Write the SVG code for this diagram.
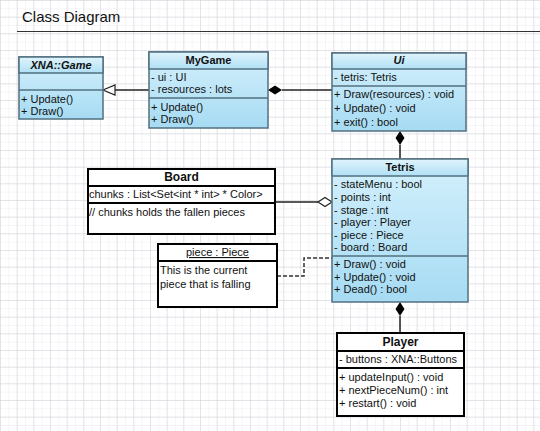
<svg xmlns="http://www.w3.org/2000/svg" width="540" height="431" viewBox="0 0 540 431">
<defs>
<pattern id="minor" width="8.3333" height="8.3333" patternUnits="userSpaceOnUse">
<path d="M0 0H8.3333M0 0V8.3333" fill="none" stroke="#ececf2" stroke-width="1"/>
</pattern>
<pattern id="major" width="16.6667" height="16.6667" patternUnits="userSpaceOnUse">
<path d="M0 0H16.6667M0 0V16.6667" fill="none" stroke="#d2d2da" stroke-width="1"/>
</pattern>
<linearGradient id="body" x1="0" y1="0" x2="0" y2="1">
<stop offset="0" stop-color="#d4f0fc"/>
<stop offset="1" stop-color="#a6dbf3"/>
</linearGradient>
<linearGradient id="head" x1="0" y1="0" x2="0" y2="1">
<stop offset="0" stop-color="#e0f4fc"/>
<stop offset="1" stop-color="#b0e0f5"/>
</linearGradient>
</defs>
<style>
.t{font-family:"Liberation Sans",Arial,sans-serif;font-size:11px;fill:#111}
.h{font-family:"Liberation Sans",Arial,sans-serif;font-size:11px;font-weight:bold;fill:#111;text-anchor:middle}
.hi{font-style:italic}
.hb{font-size:12px}
.bb{fill:url(#body);stroke:#52707f;stroke-width:1.5}
.bh{fill:url(#head);stroke:#52707f;stroke-width:1.5}
.sep{stroke:#52707f;stroke-width:1.5;fill:none}
.wb{fill:#fff;stroke:#000;stroke-width:2}
.wsep{stroke:#000;stroke-width:2;fill:none}
.ln{stroke:#222;stroke-width:1.5;fill:none}
.dash{stroke:#333;stroke-width:1.5;fill:none;stroke-dasharray:4 2}
</style>
<rect width="540" height="431" fill="#fff"/>
<rect width="540" height="431" fill="url(#minor)"/>
<rect width="540" height="431" fill="url(#major)"/>
<text x="22" y="22" font-family="'Liberation Sans',Arial,sans-serif" font-size="15" fill="#111">Class Diagram</text>
<line x1="17" y1="31.5" x2="540" y2="31.5" stroke="#333" stroke-width="1"/>

<g id="connectors">
<path class="ln" d="M149 90H115"/>
<path d="M103 90L115 85L115 95Z" fill="#fff" stroke="#222" stroke-width="1.2"/>
<path class="ln" d="M282 90H332"/>
<path d="M268 90L275 85.5L282 90L275 94.5Z" fill="#000"/>
<path class="ln" d="M400 145V159"/>
<path d="M400 131L404.5 138L400 145L395.5 138Z" fill="#000"/>
<path class="ln" d="M400 316V333"/>
<path d="M400 302L404.5 309L400 316L395.5 309Z" fill="#000"/>
<path class="ln" d="M275 202H318"/>
<path d="M332 202L325 197.5L318 202L325 206.5Z" fill="#fff" stroke="#222" stroke-width="1.2"/>
<path class="dash" d="M277 276H304V258H332"/>
</g>

<g id="xna-game">
<rect class="bb" x="19" y="57" width="84" height="62"/>
<rect class="bh" x="19" y="57" width="84" height="16"/>
<path class="sep" d="M19 90H103"/>
<text class="h hi" x="61" y="69">XNA::Game</text>
<text class="t" x="21" y="103">+ Update()</text>
<text class="t" x="21" y="115">+ Draw()</text>
</g>

<g id="mygame">
<rect class="bb" x="149" y="52" width="119" height="76"/>
<rect class="bh" x="149" y="52" width="119" height="17"/>
<path class="sep" d="M149 98H268"/>
<text class="h" x="208.5" y="64">MyGame</text>
<text class="t" x="151" y="81">- ui : UI</text>
<text class="t" x="151" y="93">- resources : lots</text>
<text class="t" x="151" y="111">+ Update()</text>
<text class="t" x="151" y="123">+ Draw()</text>
</g>

<g id="ui">
<rect class="bb" x="332" y="53" width="134" height="78"/>
<rect class="bh" x="332" y="53" width="134" height="16"/>
<path class="sep" d="M332 86H466"/>
<text class="h hi" x="399" y="64">Ui</text>
<text class="t" x="334" y="81">- tetris: Tetris</text>
<text class="t" x="334" y="98">+ Draw(resources) : void</text>
<text class="t" x="334" y="112">+ Update() : void</text>
<text class="t" x="334" y="126">+ exit() : bool</text>
</g>

<g id="tetris">
<rect class="bb" x="332" y="159" width="136" height="143"/>
<rect class="bh" x="332" y="159" width="136" height="17"/>
<path class="sep" d="M332 256H468"/>
<text class="h" x="400" y="171">Tetris</text>
<text class="t" x="334" y="188">- stateMenu : bool</text>
<text class="t" x="334" y="201">- points : int</text>
<text class="t" x="334" y="214">- stage : int</text>
<text class="t" x="334" y="226">- player : Player</text>
<text class="t" x="334" y="239">- piece : Piece</text>
<text class="t" x="334" y="251">- board : Board</text>
<text class="t" x="334" y="268">+ Draw() : void</text>
<text class="t" x="334" y="281">+ Update() : void</text>
<text class="t" x="334" y="293">+ Dead() : bool</text>
</g>

<g id="board">
<rect class="wb" x="88" y="169" width="187" height="65"/>
<path class="wsep" d="M88 186H275M88 203H275"/>
<text class="h hb" x="181.5" y="181">Board</text>
<text class="t" x="89" y="198">chunks : List&lt;Set&lt;int * int&gt; * Color&gt;</text>
<text class="t" x="89" y="216">// chunks holds the fallen pieces</text>
</g>

<g id="piece">
<rect class="wb" x="158" y="244" width="119" height="63"/>
<path class="wsep" d="M158 261H277"/>
<text class="t" x="217.5" y="256" text-anchor="middle" text-decoration="underline">piece : Piece</text>
<text class="t" x="160" y="274">This is the current</text>
<text class="t" x="160" y="288">piece that is falling</text>
</g>

<g id="player">
<rect class="wb" x="337" y="333" width="127" height="83"/>
<path class="wsep" d="M337 351H464M337 368H464"/>
<text class="h hb" x="400.5" y="346">Player</text>
<text class="t" x="339" y="363">- buttons : XNA::Buttons</text>
<text class="t" x="339" y="381">+ updateInput() : void</text>
<text class="t" x="339" y="394">+ nextPieceNum() : int</text>
<text class="t" x="339" y="407">+ restart() : void</text>
</g>
</svg>
